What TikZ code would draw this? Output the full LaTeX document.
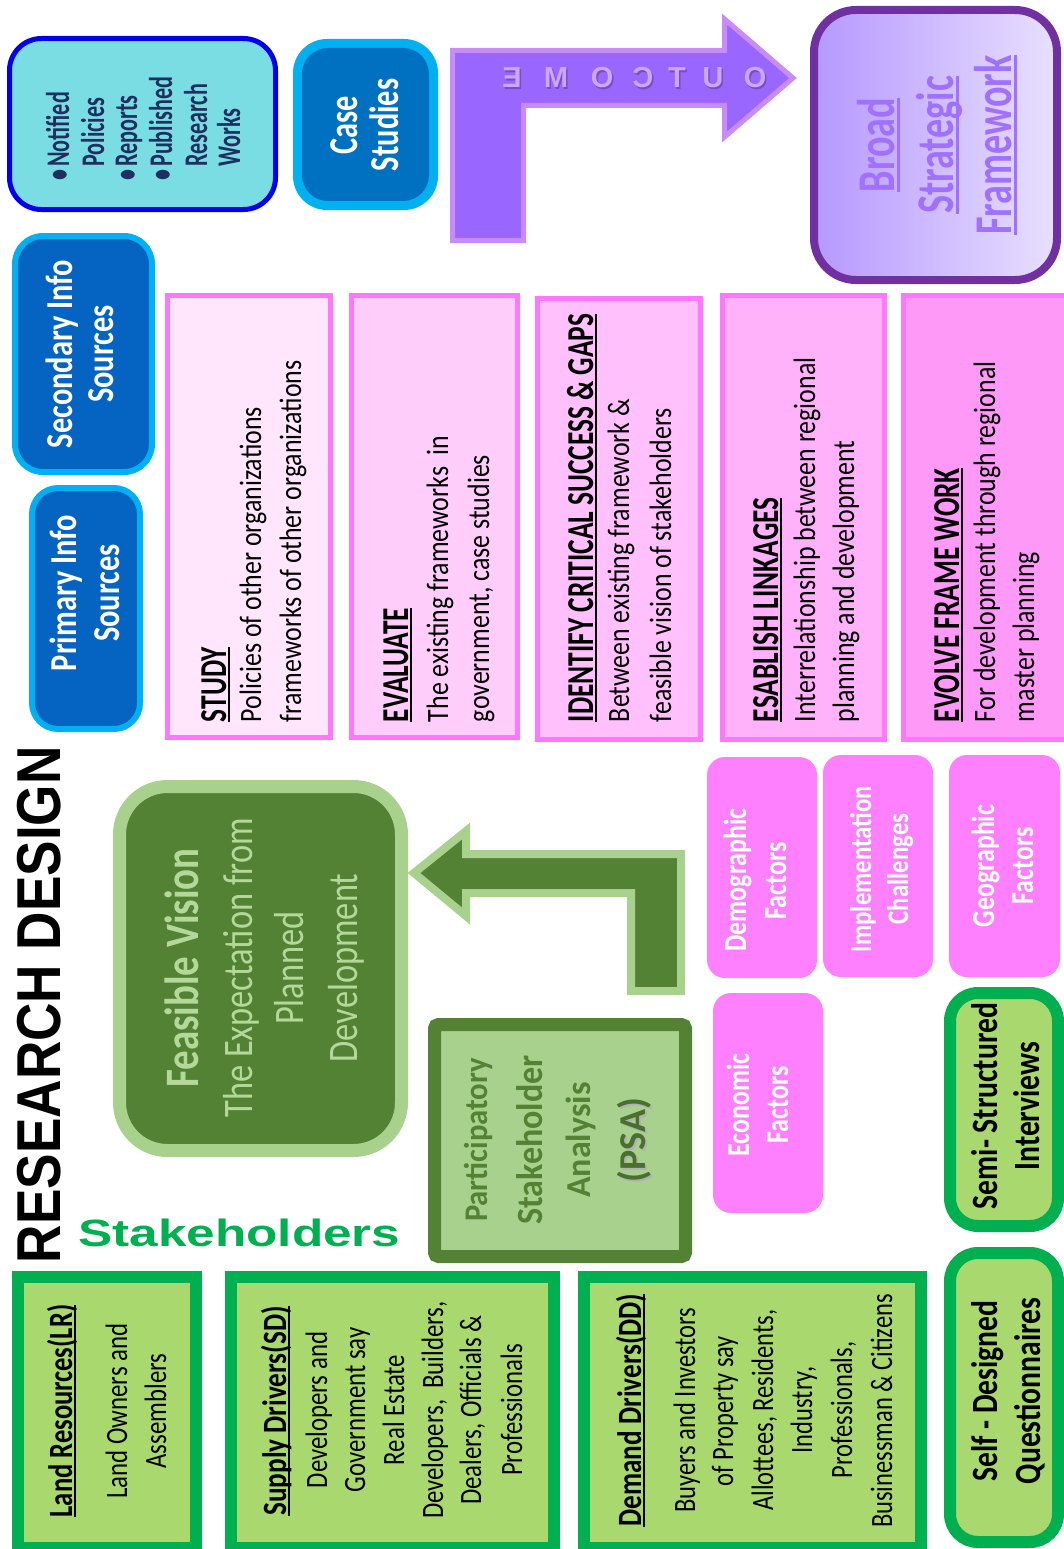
\documentclass[tikz,border=0pt]{standalone}
\usepackage{fontspec}
\setmainfont{Carlito}
\newfontfamily\lsans{Liberation Sans}
\definecolor{ncyan}{HTML}{79DDE3}
\definecolor{nblue}{HTML}{0000EE}
\definecolor{navy}{HTML}{1F2F5F}
\definecolor{lblue}{HTML}{00B0F0}
\definecolor{mblue}{HTML}{0070C0}
\definecolor{sblue}{HTML}{0563C1}
\definecolor{purp}{HTML}{9966FF}
\definecolor{purpb}{HTML}{C88CF8}
\definecolor{oclight}{HTML}{CDA6FA}
\definecolor{ocdark}{HTML}{7A4CC8}
\definecolor{dpurp}{HTML}{7030A0}
\definecolor{bsfA}{HTML}{B698FF}
\definecolor{bsfB}{HTML}{E8E0FF}
\definecolor{bsftext}{HTML}{A070FF}
\definecolor{pinkb}{HTML}{FF77FF}
\definecolor{pk1}{HTML}{FFE6FD}
\definecolor{pk2}{HTML}{FFCDFA}
\definecolor{pk3}{HTML}{FFC0FB}
\definecolor{pk4}{HTML}{FFB2FA}
\definecolor{pk5}{HTML}{FF99F8}
\definecolor{fpink}{HTML}{FF80FF}
\definecolor{dgreen}{HTML}{548235}
\definecolor{lgreen}{HTML}{A9D18E}
\definecolor{fvtext}{HTML}{B4D89A}
\definecolor{psadark}{HTML}{4A7030}
\definecolor{bgreen}{HTML}{00B050}
\definecolor{ygreen}{HTML}{A9D86E}
\newcommand\ul[1]{\setbox0\hbox{#1}\rlap{\rule[-0.11em]{\wd0}{0.055em}}\box0}
\newcommand\vl[6]{\node[#1] (#2) at (#3,#4) {\scalebox{#5}[1]{#6}};}
\newcommand\bl{•\hspace{0.15em}}
\begin{document}
\begin{tikzpicture}[x=1pt,y=-1pt,
  vt/.style={rotate=90,inner sep=0pt,outer sep=0pt},
  ntf/.style={vt,anchor=base west,text=navy,font=\bfseries\fontsize{33}{33}\selectfont},
  cs/.style={vt,anchor=base,text=white,font=\bfseries\fontsize{41}{41}\selectfont},
  bsf/.style={vt,anchor=base,text=bsftext,font=\bfseries\fontsize{53}{53}\selectfont},
  src/.style={vt,anchor=base,text=white,font=\bfseries\fontsize{38}{38}\selectfont},
  pkh/.style={vt,anchor=base west,text=black,font=\bfseries\fontsize{38}{38}\selectfont},
  pkb/.style={vt,anchor=base west,text=black,font=\fontsize{31}{31}\selectfont},
  fvh/.style={vt,anchor=base,text=fvtext,font=\bfseries\fontsize{48}{48}\selectfont},
  fvb/.style={vt,anchor=base,text=fvtext,font=\fontsize{42}{42}\selectfont},
  psa/.style={vt,anchor=base,text=dgreen,font=\bfseries\fontsize{#1}{#1}\selectfont},
  fac/.style={vt,anchor=base,text=white,font=\bfseries\fontsize{#1}{#1}\selectfont},
  mth/.style={vt,anchor=base,text=black,font=\bfseries\fontsize{37}{37}\selectfont},
  sth/.style={vt,anchor=base,text=black,font=\bfseries\fontsize{34}{34}\selectfont},
  stb/.style={vt,anchor=base,text=black,font=\fontsize{31}{31}\selectfont},
  ocl/.style={anchor=base,inner sep=0pt,font=\lsans\bfseries\fontsize{29}{29}\selectfont},
  gbox/.style={draw=bgreen,line width=12pt,fill=ygreen},
  pbox/.style={draw=pinkb,line width=5pt},
]
\useasboundingbox (0,0) rectangle (1064,1549);
\fill[white] (0,0) rectangle (1064,1549);

% ---------- Notified policies box
\draw[nblue, line width=5pt, fill=ncyan, rounded corners=32pt] (9.5,38.5) rectangle (275.5,209.5);
\vl{ntf}{nt1}{69}{181}{0.67}{\bl Notified}
\vl{ntf}{nt2}{104}{181}{0.67}{\phantom{\bl}Policies}
\vl{ntf}{nt3}{137}{181}{0.67}{\bl Reports}
\vl{ntf}{nt4}{172}{181}{0.67}{\bl Published}
\vl{ntf}{nt5}{207}{181}{0.67}{\phantom{\bl}Research}
\vl{ntf}{nt6}{240}{181}{0.67}{\phantom{\bl}Works}

% ---------- Case studies
\fill[lblue, rounded corners=34pt] (293,39) rectangle (438,210);
\fill[mblue, rounded corners=26pt] (302,48) rectangle (429,201);
\vl{cs}{cs1}{357}{125}{0.74}{Case}
\vl{cs}{cs2}{398}{125}{0.74}{Studies}

% ---------- OUTCOME arrow
\draw[draw=purpb, fill=purp, line width=5pt] (452.5,50.5) -- (724.5,50.5) -- (724.5,19) -- (793,78) -- (724.5,137) -- (724.5,105.5) -- (523.5,105.5) -- (523.5,240.5) -- (452.5,240.5) -- cycle;
\foreach \ch/\xx [count=\i] in {O/755,U/713,T/677,C/643,O/602,M/556,E/512}{
  \node[ocl,text=ocdark] (ocs\i) at (\xx+1.5,89.5) {\reflectbox{\ch}};
  \node[ocl,text=oclight] (oc\i) at (\xx,88) {\reflectbox{\ch}};
}

% ---------- Broad Strategic Framework
\draw[draw=dpurp, line width=8pt, left color=bsfA, right color=bsfB, rounded corners=42pt] (814,10) rectangle (1057,280);
\vl{bsf}{bsf1}{894}{145}{0.72}{\ul{Broad}}
\vl{bsf}{bsf2}{953}{145}{0.72}{\ul{Strategic}}
\vl{bsf}{bsf3}{1011}{145}{0.72}{\ul{Framework}}

% ---------- Info sources
\draw[lblue, line width=6pt, fill=sblue, rounded corners=28pt] (15,236) rectangle (152,472);
\vl{src}{sec1}{72}{354}{0.8}{Secondary Info}
\vl{src}{sec2}{113}{354}{0.8}{Sources}
\draw[lblue, line width=6pt, fill=sblue, rounded corners=26pt] (32,488) rectangle (140,729);
\vl{src}{pri1}{76}{593}{0.8}{Primary Info}
\vl{src}{pri2}{119}{593}{0.8}{Sources}

% ---------- pink steps
\draw[pbox, fill=pk1] (167.5,295.5) rectangle (330.5,737.5);
\draw[pbox, fill=pk2] (351.5,295.5) rectangle (517.5,737.5);
\draw[pbox, fill=pk3] (537.5,298.5) rectangle (700.5,739.5);
\draw[pbox, fill=pk4] (722.5,295.5) rectangle (884.5,739.5);
\draw[pbox, fill=pk5] (903.5,295.5) rectangle (1072,739.5);
\vl{pkh}{st0}{226}{722}{0.72}{\ul{STUDY}}
\vl{pkb}{st1}{261}{722}{0.835}{Policies of other organizations}
\vl{pkb}{st2}{301}{722}{0.835}{frameworks of other organizations}
\vl{pkh}{ev0}{408}{722}{0.72}{\ul{EVALUATE}}
\vl{pkb}{ev1}{448}{722}{0.835}{The existing frameworks\ \ in}
\vl{pkb}{ev2}{489}{722}{0.835}{government, case studies}
\vl{pkh}{id0}{593}{722}{0.72}{\ul{IDENTIFY CRITICAL SUCCESS \& GAPS}}
\vl{pkb}{id1}{629}{722}{0.835}{Between existing framework \&}
\vl{pkb}{id2}{671}{722}{0.835}{feasible vision of stakeholders}
\vl{pkh}{es0}{778}{722}{0.72}{\ul{ESABLISH LINKAGES}}
\vl{pkb}{es1}{815}{722}{0.835}{Interrelationship between regional}
\vl{pkb}{es2}{854}{722}{0.835}{planning and development}
\vl{pkh}{eo0}{959}{722}{0.72}{\ul{EVOLVE FRAME WORK}}
\vl{pkb}{eo1}{995}{722}{0.835}{For development through regional}
\vl{pkb}{eo2}{1034}{722}{0.835}{master planning}

% ---------- titles
\node[vt, anchor=base west, text=black, font=\lsans\bfseries\fontsize{62}{62}\selectfont] (title) at (60,1263) {\scalebox{0.857}[1]{RESEARCH DESIGN}};
\node[anchor=base west, inner sep=0pt, text=bgreen, font=\lsans\bfseries\fontsize{38}{38}\selectfont] (stk) at (78,1246) {\scalebox{1.35}[1]{Stakeholders}};

% ---------- Feasible vision
\draw[lgreen, line width=13pt, fill=dgreen, rounded corners=48pt] (119.5,786.5) rectangle (401.5,1150.5);
\vl{fvh}{fv1}{198}{968}{0.81}{Feasible Vision}
\vl{fvb}{fv2}{252}{968}{0.82}{The Expectation from}
\vl{fvb}{fv3}{303}{968}{0.82}{Planned}
\vl{fvb}{fv4}{357}{968}{0.82}{Development}

% ---------- green bent arrow
\draw[draw=lgreen, fill=dgreen, line width=8pt] (414,873) -- (466,831) -- (466,854) -- (681,854) -- (681,991) -- (631,991) -- (631,893) -- (466,893) -- (466,916) -- cycle;

% ---------- PSA
\draw[dgreen, line width=13pt, fill=lgreen, rounded corners=4pt] (434.5,1024.5) rectangle (685.5,1256.5);
\vl{psa=33}{ps1}{487}{1140}{0.93}{Participatory}
\vl{psa=37}{ps2}{542}{1140}{0.92}{Stakeholder}
\vl{psa=35}{ps3}{590}{1140}{0.97}{Analysis}
\vl{psa=38,text=gray!60}{ps4s}{647}{1142}{1}{(PSA)}
\vl{psa=38,text=psadark}{ps4}{645}{1140}{1}{(PSA)}

% ---------- factors
\fill[fpink, rounded corners=18pt] (707,757) rectangle (817,978);
\fill[fpink, rounded corners=18pt] (823,755) rectangle (933,977);
\fill[fpink, rounded corners=18pt] (949,755) rectangle (1060,977);
\fill[fpink, rounded corners=18pt] (713,993) rectangle (823,1213);
\vl{fac=32}{dm1}{746}{880}{0.81}{Demographic}
\vl{fac=32}{dm2}{786}{881}{0.81}{Factors}
\vl{fac=30}{im1}{871}{869}{0.83}{Implementation}
\vl{fac=30}{im2}{908}{869}{0.83}{Challenges}
\vl{fac=32}{gg1}{994}{866}{0.81}{Geographic}
\vl{fac=32}{gg2}{1033}{866}{0.81}{Factors}
\vl{fac=32}{ec1}{749}{1105}{0.81}{Economic}
\vl{fac=32}{ec2}{788}{1105}{0.81}{Factors}

% ---------- methods
\draw[gbox, rounded corners=28pt] (950,993) rectangle (1058,1226);
\draw[gbox, rounded corners=28pt] (950,1253) rectangle (1058,1542);
\vl{mth}{si1}{997}{1106}{0.8}{Semi- Structured}
\vl{mth}{si2}{1039}{1106}{0.8}{Interviews}
\vl{mth}{sq1}{997}{1391}{0.8}{Self - Designed}
\vl{mth}{sq2}{1040}{1391}{0.8}{Questionnaires}

% ---------- stakeholder boxes
\draw[gbox] (18,1277) rectangle (196,1548);
\draw[gbox] (231,1277) rectangle (554,1548);
\draw[gbox] (584,1277) rectangle (921,1548);
\vl{sth}{lr0}{72}{1411}{0.78}{\ul{Land Resources(LR)}}
\vl{stb}{lr1}{127}{1411}{0.8}{Land Owners and}
\vl{stb}{lr2}{166}{1411}{0.8}{Assemblers}
\vl{sth}{sd0}{286}{1411}{0.8}{\ul{Supply Drivers(SD)}}
\vl{stb}{sd1}{327}{1410}{0.8}{Developers and}
\vl{stb}{sd2}{365}{1410}{0.8}{Government say}
\vl{stb}{sd3}{404}{1410}{0.8}{Real Estate}
\vl{stb}{sd4}{443}{1410}{0.8}{Developers,\ \ Builders,}
\vl{stb}{sd5}{481}{1410}{0.8}{Dealers, Officials \&}
\vl{stb}{sd6}{522}{1410}{0.8}{Professionals}
\vl{sth}{dd0}{641}{1410}{0.8}{\ul{Demand Drivers(DD)}}
\vl{stb}{dd1}{695}{1410}{0.79}{Buyers and Investors}
\vl{stb}{dd2}{733}{1411}{0.79}{of Property say}
\vl{stb}{dd3}{773}{1410}{0.79}{Allottees, Residents,}
\vl{stb}{dd4}{812}{1410}{0.79}{Industry,}
\vl{stb}{dd5}{852}{1410}{0.79}{Professionals,}
\vl{stb}{dd6}{892}{1411}{0.79}{Businessman \& Citizens}
\end{tikzpicture}
\end{document}
